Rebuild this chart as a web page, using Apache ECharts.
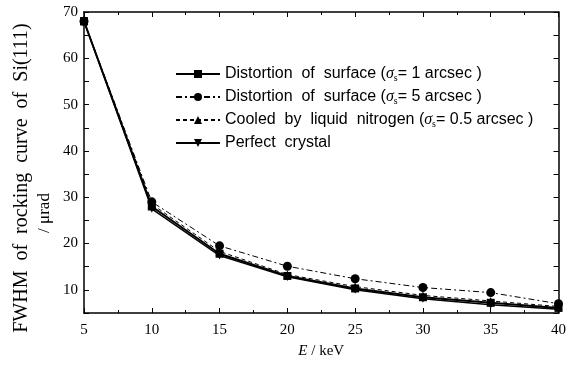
<!DOCTYPE html>
<html>
<head>
<meta charset="utf-8">
<script src="https://cdn.jsdelivr.net/npm/echarts@6/dist/echarts.min.js"></script>
<style>
  html, body { margin: 0; padding: 0; background: #fff; }
  #chart { width: 569px; height: 371px; }
</style>
</head>
<body>
<div id="chart"></div>
<script>
const energy = [5, 10, 15, 20, 25, 30, 35, 40]
const sigma1 = [68, 28, 17.8, 13, 10.3, 8.4, 7.2, 6.1]
const sigma5 = [68, 29, 19.5, 15.1, 12.4, 10.5, 9.4, 7]
const cooled = [68, 28.5, 18.3, 13.3, 10.7, 8.8, 7.6, 6.4]
const perfect = [68, 27.5, 17.4, 12.8, 10, 8.1, 6.8, 5.8]
const seriesNames = [
  'Distortion  of  surface ({g|σ}{s|s}= 1 arcsec )',
  'Distortion  of  surface ({g|σ}{s|s}= 5 arcsec )',
  'Cooled  by  liquid  nitrogen ({g|σ}{s|s}= 0.5 arcsec )',
  'Perfect  crystal'
]

const toPairs = (vals) => energy.map((e, i) => [e, vals[i]])

const chart = echarts.init(document.getElementById('chart'))
const serif = 'Liberation Serif'
const sans = 'Liberation Sans'

const option = {
  animation: false,
  backgroundColor: '#fff',
  grid: {
    left: 84,
    right: 10,
    top: 12,
    bottom: 58
  },
  legend: {
    orient: 'vertical',
    left: 170,
    top: 61,
    itemWidth: 44,
    itemHeight: 10,
    itemGap: 6,
    data: seriesNames,
    textStyle: {
      color: '#000',
      fontFamily: sans,
      fontSize: 16,
      rich: {
        g: { fontFamily: serif, fontStyle: 'italic', fontSize: 16 },
        s: { fontFamily: serif, fontSize: 10, verticalAlign: 'bottom', padding: [8, 0, 0, 0] }
      }
    }
  },
  graphic: [
    {
      type: 'text',
      rotation: Math.PI / 2,
      x: 22,
      y: 178,
      style: {
        text: 'FWHM  of  rocking  curve  of  Si(111)',
        fontFamily: serif,
        fontSize: 20,
        fill: '#000',
        align: 'center',
        verticalAlign: 'middle'
      }
    },
    {
      type: 'text',
      rotation: Math.PI / 2,
      x: 45,
      y: 213,
      style: {
        text: '/ μrad',
        fontFamily: serif,
        fontSize: 17,
        fill: '#000',
        align: 'center',
        verticalAlign: 'middle'
      }
    }
  ],
  xAxis: [
    {
      type: 'value',
      min: 5,
      max: 40,
      interval: 5,
      name: '{i|E} / keV',
      nameLocation: 'middle',
      nameGap: 31,
      nameTextStyle: {
        color: '#000',
        fontFamily: serif,
        fontSize: 15,
        rich: { i: { fontStyle: 'italic', fontFamily: serif, fontSize: 15 } }
      },
      axisLine: { lineStyle: { color: '#000', width: 1.5 } },
      axisTick: { inside: true, length: 5, lineStyle: { color: '#000' } },
      minorTick: { show: true, splitNumber: 2, length: 3, lineStyle: { color: '#000' } },
      axisLabel: { color: '#000', fontFamily: serif, fontSize: 15, margin: 10 },
      splitLine: { show: false }
    },
    {
      type: 'value',
      position: 'top',
      min: 5,
      max: 40,
      interval: 5,
      axisLine: { lineStyle: { color: '#000', width: 1.5 } },
      axisTick: { inside: true, length: 5, lineStyle: { color: '#000' } },
      minorTick: { show: true, splitNumber: 2, length: 3, lineStyle: { color: '#000' } },
      axisLabel: { show: false },
      splitLine: { show: false }
    }
  ],
  yAxis: [
    {
      type: 'value',
      min: 5,
      max: 70,
      interval: 5,
      axisLine: { lineStyle: { color: '#000', width: 1.5 } },
      axisTick: { inside: true, length: 5, lineStyle: { color: '#000' } },
      axisLabel: {
        color: '#000',
        fontFamily: serif,
        fontSize: 15,
        margin: 6,
        formatter: function (v) {
          return v % 10 === 0 ? v : ''
        }
      },
      splitLine: { show: false }
    },
    {
      type: 'value',
      position: 'right',
      min: 5,
      max: 70,
      interval: 5,
      axisLine: { show: true, lineStyle: { color: '#000', width: 1.5 } },
      axisTick: { inside: true, length: 5, lineStyle: { color: '#000' } },
      axisLabel: { show: false },
      splitLine: { show: false }
    }
  ],
  series: [
    {
      name: seriesNames[0],
      type: 'line',
      data: toPairs(sigma1),
      symbol: 'rect',
      symbolSize: 8,
      itemStyle: { color: '#000' },
      lineStyle: { color: '#000', width: 2 }
    },
    {
      name: seriesNames[1],
      type: 'line',
      data: toPairs(sigma5),
      symbol: 'circle',
      symbolSize: 9,
      itemStyle: { color: '#000' },
      lineStyle: { color: '#000', width: 1, type: [6, 3, 2, 3] }
    },
    {
      name: seriesNames[2],
      type: 'line',
      data: toPairs(cooled),
      symbol: 'triangle',
      symbolSize: 8,
      itemStyle: { color: '#000' },
      lineStyle: { color: '#000', width: 1, type: [4, 3] }
    },
    {
      name: seriesNames[3],
      type: 'line',
      data: toPairs(perfect),
      symbol: 'triangle',
      symbolRotate: 180,
      symbolSize: 8,
      itemStyle: { color: '#000' },
      lineStyle: { color: '#000', width: 1.5 }
    }
  ]
}

chart.setOption(option)
</script>
</body>
</html>
